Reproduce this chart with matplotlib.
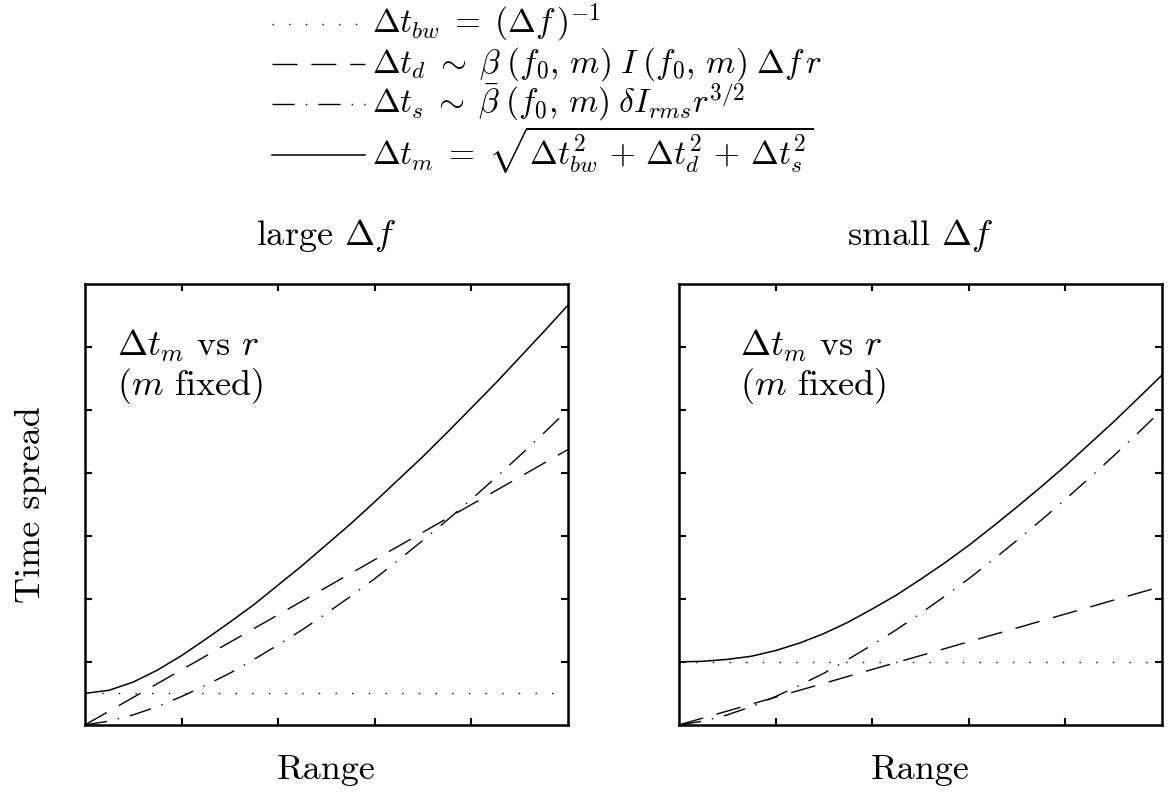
import matplotlib
matplotlib.use("Agg")
import matplotlib.pyplot as plt
from matplotlib.lines import Line2D

plt.rcParams['font.family'] = 'serif'
plt.rcParams['font.serif'] = ['cmr10']
plt.rcParams['mathtext.fontset'] = 'cm'
plt.rcParams['axes.unicode_minus'] = False

# range samples (normalised)
r = [0.00, 0.05, 0.10, 0.15, 0.20, 0.25, 0.30, 0.35, 0.40, 0.45, 0.50,
     0.55, 0.60, 0.65, 0.70, 0.75, 0.80, 0.85, 0.90, 0.95, 1.00]
r_ends = [0.0, 1.0]

# large bandwidth case
large_bw = [0.50, 0.50]
large_d = [0.00, 4.37]
large_s = [0.00, 0.06, 0.16, 0.29, 0.45, 0.63, 0.82, 1.04, 1.27, 1.51, 1.77,
           2.04, 2.32, 2.62, 2.93, 3.25, 3.58, 3.92, 4.27, 4.63, 5.00]
large_m = [0.50, 0.55, 0.68, 0.87, 1.10, 1.36, 1.63, 1.91, 2.22, 2.53, 2.86,
           3.19, 3.54, 3.90, 4.26, 4.64, 5.03, 5.42, 5.83, 6.24, 6.66]

# small bandwidth case
small_bw = [1.00, 1.00]
small_d = [0.00, 2.20]
small_s = large_s
small_m = [1.00, 1.01, 1.04, 1.09, 1.18, 1.30, 1.45, 1.63, 1.84, 2.06, 2.31,
           2.57, 2.85, 3.15, 3.46, 3.78, 4.11, 4.46, 4.81, 5.18, 5.55]

labels = [r'$\Delta t_{bw}\;=\;(\Delta f\,)^{-1}$',
          r'$\Delta t_d\;\sim\;\beta\;(f_0,\,m)\;I\;(f_0,\,m)\;\Delta f\,r$',
          r'$\Delta t_s\;\sim\;\bar{\beta}\;(f_0,\,m)\;\delta I_{rms} r^{3/2}$',
          r'$\Delta t_m\;=\;\sqrt{\Delta t_{bw}^2\,+\,\Delta t_d^2\,+\,\Delta t_s^2}$']
titles = [r'large $\Delta f$', r'small $\Delta f$']

dotted = (0, (1, 11))
dashed = (0, (18, 10))
dashdot = (0, (16, 8, 1, 8))
styles = [dotted, dashed, dashdot, '-']

W, H = 1172, 801
fig = plt.figure(figsize=(W / 100, H / 100), dpi=100)
ax1 = fig.add_axes([0.0725, 0.095, 0.412, 0.5506])
ax2 = fig.add_axes([0.5794, 0.095, 0.412, 0.5506])

panels = [(ax1, large_bw, large_d, large_s, large_m),
          (ax2, small_bw, small_d, small_s, small_m)]

for i, (ax, bw, d, s, m) in enumerate(panels):
    ax.plot(r_ends, bw, color='k', lw=1.0, linestyle=dotted)
    ax.plot(r_ends, d, color='k', lw=1.0, linestyle=dashed)
    ax.plot(r, s, color='k', lw=1.0, linestyle=dashdot)
    ax.plot(r, m, color='k', lw=1.1)
    ax.set_xlim(0, 1)
    ax.set_ylim(0, 7)
    ax.set_xticks([0.2, 0.4, 0.6, 0.8])
    ax.set_yticks([1, 2, 3, 4, 5, 6])
    ax.tick_params(direction='in', length=5, width=1.5, top=True, right=True,
                   labelbottom=False, labelleft=False)
    for sp in ax.spines.values():
        sp.set_linewidth(1.8)
    ax.set_xlabel('Range', fontsize=26, labelpad=21)
    ax.text(0.5, 1.11, titles[i], transform=ax.transAxes, ha='center',
            va='center', fontsize=26)
    tx = 0.066 if i == 0 else 0.127
    ax.text(tx, 6.3, '$\\Delta t_m$ vs $r$\n($m$ fixed)', ha='left', va='top',
            fontsize=26, linespacing=1.05)

ax1.set_ylabel('Time spread', fontsize=26, labelpad=27)

# key drawn by hand above the panels (text baselines in pixels from the top)
key_baselines = [33, 73, 113, 164]
for yb, ls, lab in zip(key_baselines, styles, labels):
    fy = 1 - (yb - 9) / H
    fig.add_artist(Line2D([272 / W, 365 / W], [fy, fy], color='k',
                          lw=1.1 if ls == '-' else 1.0, linestyle=ls))
    fig.text(372 / W, 1 - yb / H, lab, fontsize=24, ha='left',
             va='baseline')

fig.savefig('out.png', dpi=100)
